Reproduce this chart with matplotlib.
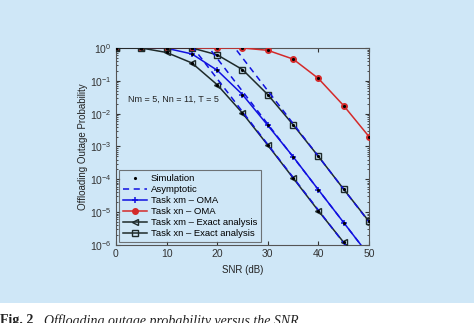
import matplotlib
matplotlib.use("Agg")
import matplotlib.pyplot as plt
from matplotlib.patches import Rectangle
from matplotlib.ticker import LogLocator, NullFormatter

plt.rcParams['font.family'] = ['Liberation Sans', 'DejaVu Sans']
plt.rcParams['mathtext.default'] = 'regular'

BG = '#cfe7f7'

# outage probability vs SNR (dB), one point every 5 dB
snr = [0, 5, 10, 15, 20, 25, 30, 35, 40, 45, 50]
p_xm_oma = [1, 1, 0.98, 0.66, 0.21, 0.038, 0.0044, 4.9e-4, 4.8e-5, 4.8e-6, 4.8e-7]
p_xn_oma = [1, 1, 1, 1, 1, 1, 0.85, 0.46, 0.118, 0.0175, 0.002]
p_xm_exact = [1, 1, 0.73, 0.35, 0.076, 0.0104, 1.1e-3, 1.1e-4, 1.1e-5, 1.2e-6, 1.2e-7]
p_xn_exact = [1, 1, 1, 1, 0.62, 0.22, 0.038, 0.0046, 5e-4, 5e-5, 5.2e-6]

# high-SNR asymptotes (end points)
asym_snr_xm = [15, 50]
asym_xm_exact = [1.15, 1.15e-7]
asym_xm_oma = [4.8, 4.8e-7]
asym_snr_xn = [20, 50]
asym_xn_exact = [5.0, 5.0e-6]

fig = plt.figure(figsize=(4.74, 3.23), dpi=100)
fig.patch.set_facecolor(BG)
ax = fig.add_axes([0.2447, 0.2415, 0.5338, 0.6099])
ax.set_facecolor(BG)

blue = '#1010e0'
red = '#d42a2a'
dark = '#1e2a2a'

ax.plot(snr, p_xm_oma, color=blue, lw=1.1, marker='+', ms=5, mew=1.1,
        label='Task xm – OMA', zorder=3)
ax.plot(snr, p_xn_oma, color=red, lw=1.1, marker='o', ms=4, mfc=red, mec=red,
        label='Task xn – OMA', zorder=3)
ax.plot(snr, p_xm_exact, color=dark, lw=1.1, marker='<', ms=5, mfc='none',
        mec=dark, label='Task xm – Exact analysis', zorder=3)
ax.plot(snr, p_xn_exact, color=dark, lw=1.1, marker='s', ms=4.5, mfc='none',
        mec=dark, label='Task xn – Exact analysis', zorder=3)

ax.plot(asym_snr_xm, asym_xm_exact, color=blue, lw=1.1, ls=(0, (4, 3)), zorder=4)
ax.plot(asym_snr_xm, asym_xm_oma, color=blue, lw=1.1, ls=(0, (4, 3)), zorder=4)
ax.plot(asym_snr_xn, asym_xn_exact, color=blue, lw=1.1, ls=(0, (4, 3)),
        label='Asymptotic', zorder=4)

# simulation points
for p in (p_xm_oma, p_xn_oma, p_xm_exact, p_xn_exact):
    ax.plot(snr, p, ls='none', marker='.', ms=2.5, color='k', zorder=5)
ax.plot([], [], ls='none', marker='.', ms=2.5, color='k', label='Simulation')

ax.set_yscale('log')
ax.set_xlim(0, 50)
ax.set_ylim(1e-6, 1)
ax.set_xticks([0, 10, 20, 30, 40, 50])
ax.yaxis.set_major_locator(LogLocator(base=10, numticks=10))
ax.yaxis.set_minor_locator(LogLocator(base=10, subs=range(2, 10), numticks=10))
ax.yaxis.set_minor_formatter(NullFormatter())
ax.tick_params(which='both', direction='in', top=True, right=True,
               labelsize=7.5, colors='#333333', pad=3)
ax.tick_params(which='major', length=3)
ax.tick_params(which='minor', length=1.5)
for s in ax.spines.values():
    s.set_color('#555555')
    s.set_linewidth(0.8)

ax.set_xlabel('SNR (dB)', fontsize=7, color='#222222', labelpad=4)
ax.set_ylabel('Offloading Outage Probability', fontsize=7, color='#222222',
              labelpad=1.5)

ax.text(2.3, 10**-1.55, 'Nm = 5, Nn = 11, T = 5', fontsize=6.5, color='#222222',
        va='center')

handles, labels = ax.get_legend_handles_labels()
order = ['Simulation', 'Asymptotic', 'Task xm – OMA', 'Task xn – OMA',
         'Task xm – Exact analysis', 'Task xn – Exact analysis']
hmap = dict(zip(labels, handles))
leg = ax.legend([hmap[k] for k in order], order, loc='lower left',
                fontsize=6.8, frameon=True, fancybox=False, handlelength=2.6,
                borderaxespad=0.3, labelspacing=0.22, handletextpad=0.4,
                borderpad=0.4)
leg.get_frame().set_facecolor(BG)
leg.get_frame().set_edgecolor('#555555')
leg.get_frame().set_linewidth(0.8)

# caption strip
fig.patches.append(Rectangle((0, 0), 1, 1 - 303 / 323, transform=fig.transFigure,
                             facecolor='white', edgecolor='none', zorder=-1))
fig.text(0.0, 1 - 314 / 323, r'Fig. 2', fontsize=10, fontweight='bold',
         family='Liberation Serif', va='top', color='#222222')
fig.text(0.093, 1 - 314 / 323, 'Offloading outage probability versus the SNR',
         fontsize=10, style='italic', family='Liberation Serif', va='top',
         color='#222222')

fig.savefig('out.png', dpi=100, facecolor=fig.get_facecolor())
